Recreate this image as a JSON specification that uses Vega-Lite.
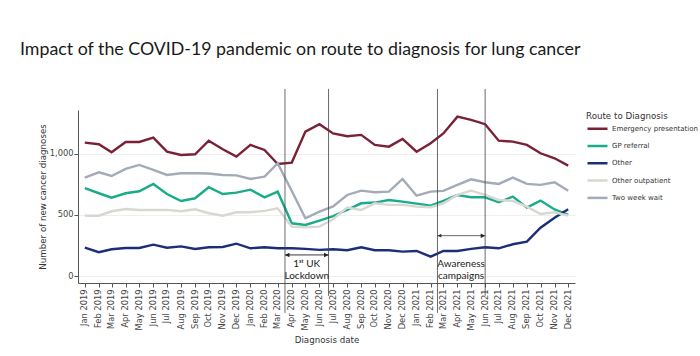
{
  "$schema": "https://vega.github.io/schema/vega-lite/v6.json",
  "width": 497,
  "height": 173,
  "autosize": {"type": "none"},
  "padding": {"left": 78, "top": 110, "right": 125, "bottom": 73},
  "background": "white",
  "title": {
    "text": "Impact of the COVID-19 pandemic on route to diagnosis for lung cancer",
    "anchor": "start",
    "frame": "group",
    "dx": -58,
    "offset": 16,
    "baseline": "alphabetic",
    "font": "Lato",
    "fontSize": 17.8,
    "fontWeight": "normal",
    "color": "#1a1a1a"
  },
  "config": {
    "view": {"stroke": null},
    "axis": {
      "labelFont": "DejaVu Sans",
      "titleFont": "DejaVu Sans",
      "labelColor": "#444",
      "titleColor": "#333",
      "titleFontWeight": "normal",
      "titleFontSize": 8.7,
      "labelFontSize": 8.3,
      "domainColor": "#555",
      "tickColor": "#555",
      "tickSize": 4
    }
  },
  "datasets": {
    "events": [
      {"event": "1st UK Lockdown", "start": "2020-03-17", "end": "2020-06-21", "mid": "2020-05-04", "label": "1ˢᵗ UK\nLockdown"},
      {"event": "Awareness campaigns", "start": "2021-02-16", "end": "2021-06-01", "mid": "2021-04-09", "label": "Awareness\ncampaigns"}
    ]
  },
  "layer": [
    {
      "data": {"values": [
        {"date": "2019-01-01", "route": "Emergency presentation", "n": 1090},
        {"date": "2019-02-01", "route": "Emergency presentation", "n": 1077},
        {"date": "2019-03-01", "route": "Emergency presentation", "n": 1011},
        {"date": "2019-04-01", "route": "Emergency presentation", "n": 1095},
        {"date": "2019-05-01", "route": "Emergency presentation", "n": 1095},
        {"date": "2019-06-01", "route": "Emergency presentation", "n": 1131},
        {"date": "2019-07-01", "route": "Emergency presentation", "n": 1016},
        {"date": "2019-08-01", "route": "Emergency presentation", "n": 989},
        {"date": "2019-09-01", "route": "Emergency presentation", "n": 995},
        {"date": "2019-10-01", "route": "Emergency presentation", "n": 1106},
        {"date": "2019-11-01", "route": "Emergency presentation", "n": 1036},
        {"date": "2019-12-01", "route": "Emergency presentation", "n": 976},
        {"date": "2020-01-01", "route": "Emergency presentation", "n": 1071},
        {"date": "2020-02-01", "route": "Emergency presentation", "n": 1030},
        {"date": "2020-03-01", "route": "Emergency presentation", "n": 916},
        {"date": "2020-04-01", "route": "Emergency presentation", "n": 927},
        {"date": "2020-05-01", "route": "Emergency presentation", "n": 1180},
        {"date": "2020-06-01", "route": "Emergency presentation", "n": 1240},
        {"date": "2020-07-01", "route": "Emergency presentation", "n": 1165},
        {"date": "2020-08-01", "route": "Emergency presentation", "n": 1142},
        {"date": "2020-09-01", "route": "Emergency presentation", "n": 1153},
        {"date": "2020-10-01", "route": "Emergency presentation", "n": 1071},
        {"date": "2020-11-01", "route": "Emergency presentation", "n": 1057},
        {"date": "2020-12-01", "route": "Emergency presentation", "n": 1120},
        {"date": "2021-01-01", "route": "Emergency presentation", "n": 1016},
        {"date": "2021-02-01", "route": "Emergency presentation", "n": 1085},
        {"date": "2021-03-01", "route": "Emergency presentation", "n": 1165},
        {"date": "2021-04-01", "route": "Emergency presentation", "n": 1302},
        {"date": "2021-05-01", "route": "Emergency presentation", "n": 1275},
        {"date": "2021-06-01", "route": "Emergency presentation", "n": 1240},
        {"date": "2021-07-01", "route": "Emergency presentation", "n": 1106},
        {"date": "2021-08-01", "route": "Emergency presentation", "n": 1098},
        {"date": "2021-09-01", "route": "Emergency presentation", "n": 1071},
        {"date": "2021-10-01", "route": "Emergency presentation", "n": 1003},
        {"date": "2021-11-01", "route": "Emergency presentation", "n": 962},
        {"date": "2021-12-01", "route": "Emergency presentation", "n": 902},

        {"date": "2019-01-01", "route": "GP referral", "n": 718},
        {"date": "2019-02-01", "route": "GP referral", "n": 677},
        {"date": "2019-03-01", "route": "GP referral", "n": 641},
        {"date": "2019-04-01", "route": "GP referral", "n": 677},
        {"date": "2019-05-01", "route": "GP referral", "n": 693},
        {"date": "2019-06-01", "route": "GP referral", "n": 753},
        {"date": "2019-07-01", "route": "GP referral", "n": 671},
        {"date": "2019-08-01", "route": "GP referral", "n": 614},
        {"date": "2019-09-01", "route": "GP referral", "n": 636},
        {"date": "2019-10-01", "route": "GP referral", "n": 726},
        {"date": "2019-11-01", "route": "GP referral", "n": 671},
        {"date": "2019-12-01", "route": "GP referral", "n": 682},
        {"date": "2020-01-01", "route": "GP referral", "n": 706},
        {"date": "2020-02-01", "route": "GP referral", "n": 644},
        {"date": "2020-03-01", "route": "GP referral", "n": 690},
        {"date": "2020-04-01", "route": "GP referral", "n": 432},
        {"date": "2020-05-01", "route": "GP referral", "n": 418},
        {"date": "2020-06-01", "route": "GP referral", "n": 454},
        {"date": "2020-07-01", "route": "GP referral", "n": 490},
        {"date": "2020-08-01", "route": "GP referral", "n": 541},
        {"date": "2020-09-01", "route": "GP referral", "n": 595},
        {"date": "2020-10-01", "route": "GP referral", "n": 601},
        {"date": "2020-11-01", "route": "GP referral", "n": 622},
        {"date": "2020-12-01", "route": "GP referral", "n": 609},
        {"date": "2021-01-01", "route": "GP referral", "n": 592},
        {"date": "2021-02-01", "route": "GP referral", "n": 576},
        {"date": "2021-03-01", "route": "GP referral", "n": 614},
        {"date": "2021-04-01", "route": "GP referral", "n": 663},
        {"date": "2021-05-01", "route": "GP referral", "n": 644},
        {"date": "2021-06-01", "route": "GP referral", "n": 644},
        {"date": "2021-07-01", "route": "GP referral", "n": 603},
        {"date": "2021-08-01", "route": "GP referral", "n": 650},
        {"date": "2021-09-01", "route": "GP referral", "n": 560},
        {"date": "2021-10-01", "route": "GP referral", "n": 617},
        {"date": "2021-11-01", "route": "GP referral", "n": 545},
        {"date": "2021-12-01", "route": "GP referral", "n": 500},

        {"date": "2019-01-01", "route": "Other", "n": 233},
        {"date": "2019-02-01", "route": "Other", "n": 196},
        {"date": "2019-03-01", "route": "Other", "n": 220},
        {"date": "2019-04-01", "route": "Other", "n": 231},
        {"date": "2019-05-01", "route": "Other", "n": 231},
        {"date": "2019-06-01", "route": "Other", "n": 258},
        {"date": "2019-07-01", "route": "Other", "n": 233},
        {"date": "2019-08-01", "route": "Other", "n": 244},
        {"date": "2019-09-01", "route": "Other", "n": 223},
        {"date": "2019-10-01", "route": "Other", "n": 236},
        {"date": "2019-11-01", "route": "Other", "n": 239},
        {"date": "2019-12-01", "route": "Other", "n": 266},
        {"date": "2020-01-01", "route": "Other", "n": 228},
        {"date": "2020-02-01", "route": "Other", "n": 236},
        {"date": "2020-03-01", "route": "Other", "n": 228},
        {"date": "2020-04-01", "route": "Other", "n": 228},
        {"date": "2020-05-01", "route": "Other", "n": 223},
        {"date": "2020-06-01", "route": "Other", "n": 215},
        {"date": "2020-07-01", "route": "Other", "n": 220},
        {"date": "2020-08-01", "route": "Other", "n": 212},
        {"date": "2020-09-01", "route": "Other", "n": 236},
        {"date": "2020-10-01", "route": "Other", "n": 212},
        {"date": "2020-11-01", "route": "Other", "n": 212},
        {"date": "2020-12-01", "route": "Other", "n": 201},
        {"date": "2021-01-01", "route": "Other", "n": 206},
        {"date": "2021-02-01", "route": "Other", "n": 160},
        {"date": "2021-03-01", "route": "Other", "n": 206},
        {"date": "2021-04-01", "route": "Other", "n": 206},
        {"date": "2021-05-01", "route": "Other", "n": 223},
        {"date": "2021-06-01", "route": "Other", "n": 236},
        {"date": "2021-07-01", "route": "Other", "n": 228},
        {"date": "2021-08-01", "route": "Other", "n": 261},
        {"date": "2021-09-01", "route": "Other", "n": 282},
        {"date": "2021-10-01", "route": "Other", "n": 396},
        {"date": "2021-11-01", "route": "Other", "n": 478},
        {"date": "2021-12-01", "route": "Other", "n": 546},

        {"date": "2019-01-01", "route": "Other outpatient", "n": 494},
        {"date": "2019-02-01", "route": "Other outpatient", "n": 494},
        {"date": "2019-03-01", "route": "Other outpatient", "n": 530},
        {"date": "2019-04-01", "route": "Other outpatient", "n": 549},
        {"date": "2019-05-01", "route": "Other outpatient", "n": 541},
        {"date": "2019-06-01", "route": "Other outpatient", "n": 541},
        {"date": "2019-07-01", "route": "Other outpatient", "n": 541},
        {"date": "2019-08-01", "route": "Other outpatient", "n": 530},
        {"date": "2019-09-01", "route": "Other outpatient", "n": 546},
        {"date": "2019-10-01", "route": "Other outpatient", "n": 514},
        {"date": "2019-11-01", "route": "Other outpatient", "n": 494},
        {"date": "2019-12-01", "route": "Other outpatient", "n": 522},
        {"date": "2020-01-01", "route": "Other outpatient", "n": 522},
        {"date": "2020-02-01", "route": "Other outpatient", "n": 533},
        {"date": "2020-03-01", "route": "Other outpatient", "n": 555},
        {"date": "2020-04-01", "route": "Other outpatient", "n": 405},
        {"date": "2020-05-01", "route": "Other outpatient", "n": 400},
        {"date": "2020-06-01", "route": "Other outpatient", "n": 405},
        {"date": "2020-07-01", "route": "Other outpatient", "n": 465},
        {"date": "2020-08-01", "route": "Other outpatient", "n": 560},
        {"date": "2020-09-01", "route": "Other outpatient", "n": 541},
        {"date": "2020-10-01", "route": "Other outpatient", "n": 595},
        {"date": "2020-11-01", "route": "Other outpatient", "n": 582},
        {"date": "2020-12-01", "route": "Other outpatient", "n": 582},
        {"date": "2021-01-01", "route": "Other outpatient", "n": 568},
        {"date": "2021-02-01", "route": "Other outpatient", "n": 563},
        {"date": "2021-03-01", "route": "Other outpatient", "n": 595},
        {"date": "2021-04-01", "route": "Other outpatient", "n": 663},
        {"date": "2021-05-01", "route": "Other outpatient", "n": 698},
        {"date": "2021-06-01", "route": "Other outpatient", "n": 663},
        {"date": "2021-07-01", "route": "Other outpatient", "n": 622},
        {"date": "2021-08-01", "route": "Other outpatient", "n": 614},
        {"date": "2021-09-01", "route": "Other outpatient", "n": 568},
        {"date": "2021-10-01", "route": "Other outpatient", "n": 508},
        {"date": "2021-11-01", "route": "Other outpatient", "n": 522},
        {"date": "2021-12-01", "route": "Other outpatient", "n": 494},

        {"date": "2019-01-01", "route": "Two week wait", "n": 804},
        {"date": "2019-02-01", "route": "Two week wait", "n": 848},
        {"date": "2019-03-01", "route": "Two week wait", "n": 818},
        {"date": "2019-04-01", "route": "Two week wait", "n": 875},
        {"date": "2019-05-01", "route": "Two week wait", "n": 908},
        {"date": "2019-06-01", "route": "Two week wait", "n": 867},
        {"date": "2019-07-01", "route": "Two week wait", "n": 826},
        {"date": "2019-08-01", "route": "Two week wait", "n": 840},
        {"date": "2019-09-01", "route": "Two week wait", "n": 840},
        {"date": "2019-10-01", "route": "Two week wait", "n": 838},
        {"date": "2019-11-01", "route": "Two week wait", "n": 826},
        {"date": "2019-12-01", "route": "Two week wait", "n": 823},
        {"date": "2020-01-01", "route": "Two week wait", "n": 794},
        {"date": "2020-02-01", "route": "Two week wait", "n": 812},
        {"date": "2020-03-01", "route": "Two week wait", "n": 922},
        {"date": "2020-04-01", "route": "Two week wait", "n": 695},
        {"date": "2020-05-01", "route": "Two week wait", "n": 473},
        {"date": "2020-06-01", "route": "Two week wait", "n": 527},
        {"date": "2020-07-01", "route": "Two week wait", "n": 570},
        {"date": "2020-08-01", "route": "Two week wait", "n": 663},
        {"date": "2020-09-01", "route": "Two week wait", "n": 698},
        {"date": "2020-10-01", "route": "Two week wait", "n": 685},
        {"date": "2020-11-01", "route": "Two week wait", "n": 690},
        {"date": "2020-12-01", "route": "Two week wait", "n": 794},
        {"date": "2021-01-01", "route": "Two week wait", "n": 657},
        {"date": "2021-02-01", "route": "Two week wait", "n": 690},
        {"date": "2021-03-01", "route": "Two week wait", "n": 696},
        {"date": "2021-04-01", "route": "Two week wait", "n": 745},
        {"date": "2021-05-01", "route": "Two week wait", "n": 791},
        {"date": "2021-06-01", "route": "Two week wait", "n": 767},
        {"date": "2021-07-01", "route": "Two week wait", "n": 753},
        {"date": "2021-08-01", "route": "Two week wait", "n": 804},
        {"date": "2021-09-01", "route": "Two week wait", "n": 753},
        {"date": "2021-10-01", "route": "Two week wait", "n": 745},
        {"date": "2021-11-01", "route": "Two week wait", "n": 767},
        {"date": "2021-12-01", "route": "Two week wait", "n": 698}
      ]},
      "mark": {"type": "line", "strokeWidth": 2.4, "strokeJoin": "miter"},
      "encoding": {
        "x": {
          "field": "date",
          "type": "temporal",
          "scale": {"type": "utc", "domain": [1545004800000, 1639612800000]},
          "axis": {"title": "Diagnosis date", "labelExpr": "utcFormat(datum.value, '%b %Y')", "tickCount": {"interval": "month", "step": 1}, "labelAngle": -90, "labelOverlap": false, "labelFlush": false, "labelPadding": 2, "titlePadding": 6, "grid": false}
        },
        "y": {
          "field": "n",
          "type": "quantitative",
          "scale": {"domain": [-55, 1356], "nice": false, "zero": false},
          "axis": {
            "title": "Number of new cancer diagnoses",
            "values": [0, 500, 1000],
            "format": ",.0f",
            "grid": true,
            "gridColor": "#efefef",
            "labelPadding": 1,
            "titlePadding": 2
          }
        },
        "color": {
          "field": "route",
          "type": "nominal",
          "scale": {
            "domain": ["Emergency presentation", "GP referral", "Other", "Other outpatient", "Two week wait"],
            "range": ["#7b2136", "#1aac8a", "#1c2e78", "#d8d8d2", "#a3aab8"]
          },
          "legend": {
            "title": "Route to Diagnosis",
            "orient": "none",
            "legendX": 508,
            "legendY": 2,
            "symbolType": "stroke",
            "symbolSize": 400,
            "symbolStrokeWidth": 2.5,
            "clipHeight": 12,
            "rowPadding": 5.3,
            "labelOffset": 3,
            "titlePadding": 2,
            "titleFont": "DejaVu Sans",
            "titleFontSize": 8.7,
            "titleFontWeight": "normal",
            "titleColor": "#333",
            "labelFont": "DejaVu Sans",
            "labelFontSize": 7,
            "labelColor": "#333"
          }
        }
      }
    },
    {
      "data": {"name": "events"},
      "mark": {"type": "rule", "color": "#444", "strokeWidth": 0.8},
      "encoding": {
        "x": {"field": "start", "type": "temporal", "axis": {"title": "Diagnosis date", "labelExpr": "utcFormat(datum.value, '%b %Y')", "tickCount": {"interval": "month", "step": 1}, "labelAngle": -90, "labelOverlap": false, "labelFlush": false, "labelPadding": 2, "titlePadding": 6, "grid": false}},
        "y": {"datum": 1528},
        "y2": {"datum": -299}
      }
    },
    {
      "data": {"name": "events"},
      "mark": {"type": "rule", "color": "#444", "strokeWidth": 0.8},
      "encoding": {
        "x": {"field": "end", "type": "temporal", "axis": {"title": "Diagnosis date", "labelExpr": "utcFormat(datum.value, '%b %Y')", "tickCount": {"interval": "month", "step": 1}, "labelAngle": -90, "labelOverlap": false, "labelFlush": false, "labelPadding": 2, "titlePadding": 6, "grid": false}},
        "y": {"datum": 1528},
        "y2": {"datum": -160}
      }
    },
    {
      "data": {"name": "events"},
      "transform": [{"filter": {"field": "event", "equal": "1st UK Lockdown"}}],
      "encoding": {"y": {"datum": 174}},
      "layer": [
        {
          "mark": {"type": "rule", "color": "#222", "strokeWidth": 0.9},
          "encoding": {"x": {"field": "start", "type": "temporal", "axis": {"title": "Diagnosis date", "labelExpr": "utcFormat(datum.value, '%b %Y')", "tickCount": {"interval": "month", "step": 1}, "labelAngle": -90, "labelOverlap": false, "labelFlush": false, "labelPadding": 2, "titlePadding": 6, "grid": false}}, "x2": {"field": "end"}}
        },
        {
          "mark": {"type": "point", "shape": "M0,0 L1,-0.5 L1,0.5 Z", "filled": true, "color": "#222", "size": 80, "opacity": 1},
          "encoding": {"x": {"field": "start", "type": "temporal", "axis": {"title": "Diagnosis date", "labelExpr": "utcFormat(datum.value, '%b %Y')", "tickCount": {"interval": "month", "step": 1}, "labelAngle": -90, "labelOverlap": false, "labelFlush": false, "labelPadding": 2, "titlePadding": 6, "grid": false}}}
        },
        {
          "mark": {"type": "point", "shape": "M0,0 L-1,-0.5 L-1,0.5 Z", "filled": true, "color": "#222", "size": 80, "opacity": 1},
          "encoding": {"x": {"field": "end", "type": "temporal", "axis": {"title": "Diagnosis date", "labelExpr": "utcFormat(datum.value, '%b %Y')", "tickCount": {"interval": "month", "step": 1}, "labelAngle": -90, "labelOverlap": false, "labelFlush": false, "labelPadding": 2, "titlePadding": 6, "grid": false}}}
        }
      ]
    },
    {
      "data": {"name": "events"},
      "transform": [{"filter": {"field": "event", "equal": "Awareness campaigns"}}],
      "encoding": {"y": {"datum": 331}},
      "layer": [
        {
          "mark": {"type": "rule", "color": "#444", "strokeWidth": 0.8},
          "encoding": {"x": {"field": "start", "type": "temporal", "axis": {"title": "Diagnosis date", "labelExpr": "utcFormat(datum.value, '%b %Y')", "tickCount": {"interval": "month", "step": 1}, "labelAngle": -90, "labelOverlap": false, "labelFlush": false, "labelPadding": 2, "titlePadding": 6, "grid": false}}, "x2": {"field": "end"}}
        },
        {
          "mark": {"type": "point", "shape": "M0,0 L1,-0.5 L1,0.5 Z", "filled": true, "color": "#333", "size": 60, "opacity": 1},
          "encoding": {"x": {"field": "start", "type": "temporal", "axis": {"title": "Diagnosis date", "labelExpr": "utcFormat(datum.value, '%b %Y')", "tickCount": {"interval": "month", "step": 1}, "labelAngle": -90, "labelOverlap": false, "labelFlush": false, "labelPadding": 2, "titlePadding": 6, "grid": false}}}
        },
        {
          "mark": {"type": "point", "shape": "M0,0 L-1,-0.5 L-1,0.5 Z", "filled": true, "color": "#222", "size": 80, "opacity": 1},
          "encoding": {"x": {"field": "end", "type": "temporal", "axis": {"title": "Diagnosis date", "labelExpr": "utcFormat(datum.value, '%b %Y')", "tickCount": {"interval": "month", "step": 1}, "labelAngle": -90, "labelOverlap": false, "labelFlush": false, "labelPadding": 2, "titlePadding": 6, "grid": false}}}
        }
      ]
    },
    {
      "data": {"name": "events"},
      "mark": {"type": "text", "font": "Lato", "fontSize": 10, "color": "#222", "align": "center", "baseline": "top", "lineBreak": "\n", "lineHeight": 12.5},
      "encoding": {
        "x": {"field": "mid", "type": "temporal", "axis": {"title": "Diagnosis date", "labelExpr": "utcFormat(datum.value, '%b %Y')", "tickCount": {"interval": "month", "step": 1}, "labelAngle": -90, "labelOverlap": false, "labelFlush": false, "labelPadding": 2, "titlePadding": 6, "grid": false}},
        "y": {"datum": 141},
        "text": {"field": "label"}
      }
    }
  ]
}
